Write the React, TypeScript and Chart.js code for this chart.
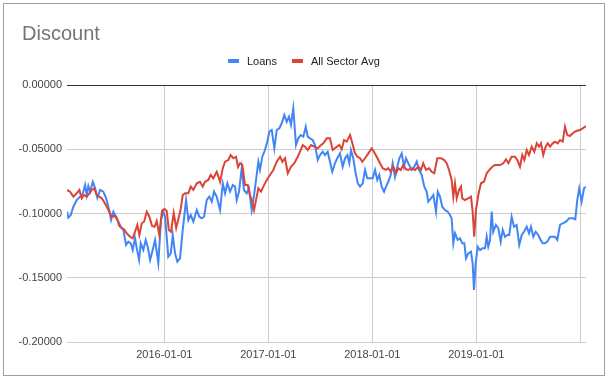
import React, { useEffect, useRef } from 'react';
import { Chart, registerables } from 'chart.js';

Chart.register(...registerables);

const chartTitle = 'Discount';
const seriesNames = ['Loans', 'All Sector Avg'];
const seriesColors = ['#4285f4', '#db4437'];

const xMin = 2015.064;
const xMax = 2020.055;
const xTickValues = [2016, 2017, 2018, 2019, 2020];
const xTickLabels = ['2016-01-01', '2017-01-01', '2018-01-01', '2019-01-01', ''];
const yMin = -0.2;
const yMax = 0;
const yStep = 0.05;

// Dates as fractional years
const loansDates = [2015.064,2015.077,2015.100,2015.125,2015.158,2015.189,2015.215,2015.238,2015.254,2015.269,2015.286,2015.312,2015.334,2015.356,2015.382,2015.413,2015.439,2015.462,2015.488,2015.510,2015.536,2015.558,2015.581,2015.606,2015.632,2015.654,2015.677,2015.696,2015.718,2015.735,2015.757,2015.773,2015.798,2015.821,2015.840,2015.863,2015.888,2015.911,2015.942,2015.968,2015.990,2016.007,2016.038,2016.062,2016.081,2016.103,2016.125,2016.151,2016.177,2016.209,2016.231,2016.254,2016.279,2016.312,2016.337,2016.360,2016.382,2016.408,2016.433,2016.456,2016.478,2016.504,2016.536,2016.562,2016.584,2016.606,2016.632,2016.658,2016.680,2016.696,2016.718,2016.744,2016.766,2016.792,2016.814,2016.840,2016.863,2016.882,2016.904,2016.920,2016.942,2016.968,2016.990,2017.010,2017.033,2017.058,2017.081,2017.106,2017.129,2017.154,2017.177,2017.199,2017.218,2017.240,2017.266,2017.288,2017.312,2017.337,2017.360,2017.379,2017.401,2017.427,2017.449,2017.475,2017.497,2017.523,2017.545,2017.571,2017.593,2017.615,2017.641,2017.663,2017.689,2017.715,2017.738,2017.760,2017.779,2017.795,2017.817,2017.840,2017.860,2017.882,2017.908,2017.930,2017.952,2017.978,2018.004,2018.026,2018.048,2018.067,2018.090,2018.113,2018.132,2018.154,2018.177,2018.196,2018.218,2018.240,2018.260,2018.283,2018.305,2018.324,2018.346,2018.379,2018.404,2018.427,2018.449,2018.475,2018.500,2018.523,2018.538,2018.564,2018.587,2018.613,2018.629,2018.651,2018.673,2018.699,2018.725,2018.747,2018.763,2018.779,2018.795,2018.821,2018.843,2018.865,2018.885,2018.901,2018.923,2018.949,2018.965,2018.978,2018.994,2019.013,2019.036,2019.058,2019.084,2019.100,2019.115,2019.132,2019.148,2019.163,2019.189,2019.212,2019.235,2019.254,2019.276,2019.298,2019.317,2019.340,2019.363,2019.388,2019.413,2019.437,2019.459,2019.485,2019.507,2019.526,2019.548,2019.571,2019.596,2019.619,2019.638,2019.661,2019.683,2019.709,2019.735,2019.757,2019.779,2019.805,2019.831,2019.863,2019.894,2019.927,2019.952,2019.971,2019.990,2020.013,2020.036,2020.055];

const loansValues = [-0.0986,-0.1033,-0.1012,-0.0947,-0.0895,-0.0869,-0.0848,-0.0778,-0.0856,-0.0786,-0.0830,-0.0753,-0.0802,-0.0879,-0.0817,-0.0830,-0.0879,-0.0947,-0.1051,-0.0986,-0.1025,-0.1064,-0.1103,-0.1128,-0.1245,-0.1219,-0.1232,-0.1284,-0.1193,-0.1271,-0.1362,-0.1232,-0.1284,-0.1206,-0.1258,-0.1362,-0.1284,-0.1206,-0.1385,-0.1051,-0.0986,-0.1025,-0.1336,-0.1310,-0.1167,-0.1310,-0.1375,-0.1349,-0.1128,-0.0895,-0.1051,-0.1012,-0.1064,-0.0973,-0.1025,-0.1037,-0.1025,-0.0895,-0.0869,-0.0908,-0.0830,-0.0869,-0.0973,-0.0765,-0.0843,-0.0765,-0.0830,-0.0778,-0.0791,-0.0895,-0.0830,-0.0648,-0.0817,-0.0843,-0.0804,-0.0973,-0.0856,-0.0739,-0.0597,-0.0661,-0.0558,-0.0506,-0.0441,-0.0363,-0.0350,-0.0493,-0.0350,-0.0337,-0.0298,-0.0233,-0.0286,-0.0247,-0.0311,-0.0181,-0.0467,-0.0415,-0.0389,-0.0402,-0.0325,-0.0402,-0.0415,-0.0428,-0.0467,-0.0584,-0.0545,-0.0519,-0.0545,-0.0519,-0.0597,-0.0675,-0.0609,-0.0570,-0.0532,-0.0636,-0.0570,-0.0545,-0.0609,-0.0506,-0.0570,-0.0687,-0.0765,-0.0791,-0.0765,-0.0661,-0.0726,-0.0726,-0.0726,-0.0661,-0.0739,-0.0700,-0.0791,-0.0830,-0.0791,-0.0753,-0.0700,-0.0609,-0.0714,-0.0636,-0.0570,-0.0532,-0.0636,-0.0570,-0.0609,-0.0661,-0.0636,-0.0597,-0.0661,-0.0700,-0.0791,-0.0830,-0.0908,-0.0882,-0.0856,-0.0986,-0.0830,-0.0869,-0.0947,-0.0973,-0.0986,-0.1012,-0.1037,-0.1232,-0.1154,-0.1206,-0.1193,-0.1232,-0.1232,-0.1349,-0.1310,-0.1297,-0.1388,-0.1595,-0.1388,-0.1258,-0.1284,-0.1271,-0.1271,-0.1181,-0.1258,-0.1206,-0.0986,-0.1142,-0.1089,-0.1115,-0.1219,-0.1128,-0.1181,-0.1167,-0.1167,-0.1025,-0.1103,-0.1089,-0.1245,-0.1167,-0.1142,-0.1103,-0.1154,-0.1103,-0.1181,-0.1142,-0.1167,-0.1206,-0.1232,-0.1232,-0.1219,-0.1181,-0.1181,-0.1181,-0.1206,-0.1089,-0.1076,-0.1064,-0.1037,-0.1037,-0.1045,-0.0895,-0.0804,-0.0908,-0.0804,-0.0791];

const sectorDates = [2015.064,2015.093,2015.125,2015.158,2015.183,2015.206,2015.228,2015.254,2015.279,2015.302,2015.327,2015.350,2015.375,2015.398,2015.420,2015.446,2015.471,2015.494,2015.519,2015.542,2015.567,2015.590,2015.613,2015.638,2015.670,2015.696,2015.718,2015.740,2015.760,2015.783,2015.805,2015.831,2015.856,2015.882,2015.906,2015.927,2015.951,2015.978,2016.002,2016.023,2016.043,2016.064,2016.090,2016.114,2016.137,2016.154,2016.177,2016.199,2016.231,2016.254,2016.279,2016.312,2016.343,2016.369,2016.391,2016.423,2016.446,2016.471,2016.504,2016.536,2016.562,2016.584,2016.615,2016.638,2016.663,2016.689,2016.709,2016.728,2016.750,2016.776,2016.802,2016.824,2016.846,2016.863,2016.879,2016.904,2016.930,2016.952,2016.985,2017.016,2017.048,2017.081,2017.113,2017.135,2017.161,2017.187,2017.218,2017.250,2017.283,2017.305,2017.331,2017.353,2017.379,2017.411,2017.442,2017.475,2017.502,2017.529,2017.562,2017.593,2017.619,2017.651,2017.683,2017.706,2017.728,2017.754,2017.786,2017.808,2017.834,2017.856,2017.882,2017.904,2017.930,2017.962,2017.994,2018.016,2018.042,2018.067,2018.100,2018.132,2018.154,2018.177,2018.202,2018.228,2018.250,2018.273,2018.298,2018.324,2018.346,2018.379,2018.411,2018.442,2018.468,2018.490,2018.516,2018.545,2018.571,2018.596,2018.625,2018.661,2018.692,2018.715,2018.738,2018.763,2018.779,2018.795,2018.812,2018.834,2018.853,2018.865,2018.891,2018.923,2018.949,2018.965,2018.980,2018.997,2019.019,2019.045,2019.074,2019.100,2019.125,2019.154,2019.180,2019.204,2019.228,2019.260,2019.286,2019.308,2019.340,2019.372,2019.394,2019.420,2019.442,2019.462,2019.485,2019.507,2019.533,2019.558,2019.581,2019.603,2019.622,2019.644,2019.667,2019.687,2019.709,2019.735,2019.757,2019.783,2019.805,2019.831,2019.853,2019.875,2019.901,2019.927,2019.949,2019.971,2019.997,2020.023,2020.055];

const sectorValues = [-0.0817,-0.0830,-0.0869,-0.0843,-0.0817,-0.0882,-0.0856,-0.0869,-0.0843,-0.0817,-0.0804,-0.0856,-0.0869,-0.0882,-0.0908,-0.0947,-0.0986,-0.1025,-0.1019,-0.1037,-0.1097,-0.1115,-0.1123,-0.1154,-0.1181,-0.1193,-0.1142,-0.1089,-0.1167,-0.1076,-0.1064,-0.0986,-0.1025,-0.1097,-0.1103,-0.1058,-0.1167,-0.0977,-0.0965,-0.0981,-0.1128,-0.1142,-0.0996,-0.1113,-0.1035,-0.0981,-0.0856,-0.0843,-0.0843,-0.0791,-0.0817,-0.0765,-0.0753,-0.0791,-0.0753,-0.0739,-0.0700,-0.0726,-0.0675,-0.0753,-0.0648,-0.0597,-0.0584,-0.0545,-0.0570,-0.0558,-0.0638,-0.0609,-0.0623,-0.0778,-0.0778,-0.0856,-0.0908,-0.0973,-0.0908,-0.0804,-0.0830,-0.0791,-0.0739,-0.0700,-0.0661,-0.0597,-0.0558,-0.0597,-0.0570,-0.0687,-0.0636,-0.0609,-0.0558,-0.0519,-0.0467,-0.0480,-0.0506,-0.0467,-0.0480,-0.0493,-0.0471,-0.0454,-0.0415,-0.0415,-0.0506,-0.0485,-0.0467,-0.0500,-0.0428,-0.0441,-0.0389,-0.0454,-0.0532,-0.0558,-0.0570,-0.0597,-0.0570,-0.0532,-0.0493,-0.0519,-0.0558,-0.0597,-0.0648,-0.0661,-0.0648,-0.0675,-0.0636,-0.0687,-0.0648,-0.0661,-0.0623,-0.0656,-0.0661,-0.0648,-0.0661,-0.0636,-0.0661,-0.0609,-0.0661,-0.0648,-0.0675,-0.0687,-0.0570,-0.0570,-0.0584,-0.0609,-0.0661,-0.0739,-0.0869,-0.0765,-0.0882,-0.0817,-0.0791,-0.0882,-0.0895,-0.0882,-0.0869,-0.0986,-0.1181,-0.0973,-0.0856,-0.0765,-0.0753,-0.0687,-0.0661,-0.0636,-0.0623,-0.0623,-0.0623,-0.0609,-0.0578,-0.0609,-0.0558,-0.0558,-0.0584,-0.0636,-0.0545,-0.0584,-0.0506,-0.0545,-0.0480,-0.0519,-0.0454,-0.0480,-0.0454,-0.0545,-0.0480,-0.0454,-0.0480,-0.0454,-0.0441,-0.0454,-0.0428,-0.0441,-0.0325,-0.0389,-0.0397,-0.0376,-0.0363,-0.0356,-0.0350,-0.0337,-0.0319];

function toPoints(xs: number[], ys: number[]) {
  const n = Math.min(xs.length, ys.length);
  const pts: { x: number; y: number }[] = [];
  for (let i = 0; i < n; i++) pts.push({ x: xs[i], y: ys[i] });
  return pts;
}

const headerPlugin = {
  id: 'header',
  afterDraw(chart: any) {
    const ctx = chart.ctx as CanvasRenderingContext2D;
    ctx.save();
    ctx.font = '20px Arial';
    ctx.fillStyle = '#757575';
    ctx.textBaseline = 'alphabetic';
    ctx.textAlign = 'left';
    ctx.fillText(chartTitle, 22, 40);

    ctx.font = '11px Arial';
    ctx.textBaseline = 'middle';
    const swatchW = 11;
    const swatchGap = 8;
    const itemGap = 15;
    const widths = seriesNames.map((n) => ctx.measureText(n).width);
    let total = 0;
    widths.forEach((w, i) => {
      total += swatchW + swatchGap + w + (i < widths.length - 1 ? itemGap : 0);
    });
    let x = Math.round(304 - total / 2);
    const cy = 61;
    seriesNames.forEach((name, i) => {
      ctx.fillStyle = seriesColors[i];
      ctx.fillRect(x, cy - 2, swatchW, 4);
      x += swatchW + swatchGap;
      ctx.fillStyle = '#222222';
      ctx.fillText(name, x, cy + 0.5);
      x += widths[i] + itemGap;
    });
    ctx.restore();
  },
};

export default function App() {
  const canvasRef = useRef<HTMLCanvasElement | null>(null);

  useEffect(() => {
    if (!canvasRef.current) return;
    const chart = new Chart(canvasRef.current, {
      type: 'line',
      data: {
        datasets: [
          {
            label: seriesNames[0],
            data: toPoints(loansDates, loansValues),
            borderColor: seriesColors[0],
            backgroundColor: seriesColors[0],
            borderWidth: 2,
            pointRadius: 0,
            tension: 0,
            order: 1,
          },
          {
            label: seriesNames[1],
            data: toPoints(sectorDates, sectorValues),
            borderColor: seriesColors[1],
            backgroundColor: seriesColors[1],
            borderWidth: 2,
            pointRadius: 0,
            tension: 0,
            order: 0,
          },
        ],
      },
      options: {
        animation: false,
        responsive: false,
        devicePixelRatio: 1,
        parsing: false,
        layout: { padding: { top: 85, right: 23, left: 0, bottom: 0 } },
        plugins: {
          legend: { display: false },
          title: { display: false },
          tooltip: { enabled: false },
        },
        scales: {
          x: {
            type: 'linear',
            min: xMin,
            max: xMax,
            border: { display: false },
            grid: { color: '#cccccc', lineWidth: 1, drawTicks: false },
            afterBuildTicks: (scale: any) => {
              scale.ticks = xTickValues.map((v) => ({ value: v }));
            },
            afterFit: (scale: any) => {
              scale.height = 38;
            },
            ticks: {
              autoSkip: false,
              maxRotation: 0,
              padding: 6,
              color: '#444444',
              font: { family: 'Arial', size: 11 },
              callback: (v: any) => {
                const i = xTickValues.indexOf(Number(v));
                return i >= 0 ? xTickLabels[i] : '';
              },
            },
          },
          y: {
            type: 'linear',
            min: yMin,
            max: yMax,
            border: { display: false },
            grid: {
              drawTicks: false,
              lineWidth: 1,
              color: (c: any) => (c.tick && Math.abs(c.tick.value) < 1e-9 ? '#333333' : '#cccccc'),
            },
            afterFit: (scale: any) => {
              scale.width = 67;
            },
            ticks: {
              stepSize: yStep,
              padding: 5,
              color: '#444444',
              font: { family: 'Arial', size: 11 },
              callback: (v: any) => Number(v).toFixed(5),
            },
          },
        },
      },
      plugins: [headerPlugin],
    } as any);
    return () => chart.destroy();
  }, []);

  return (
    <div style={{ position: 'absolute', left: 0, top: 0, width: 609, height: 380, background: '#ffffff' }}>
      <canvas ref={canvasRef} width={609} height={380} style={{ position: 'absolute', left: 0, top: 0, display: 'block' }} />
      <div
        style={{
          position: 'absolute',
          left: 3,
          top: 3,
          width: 600,
          height: 371,
          border: '1px solid #a0a0a0',
          pointerEvents: 'none',
        }}
      />
    </div>
  );
}
